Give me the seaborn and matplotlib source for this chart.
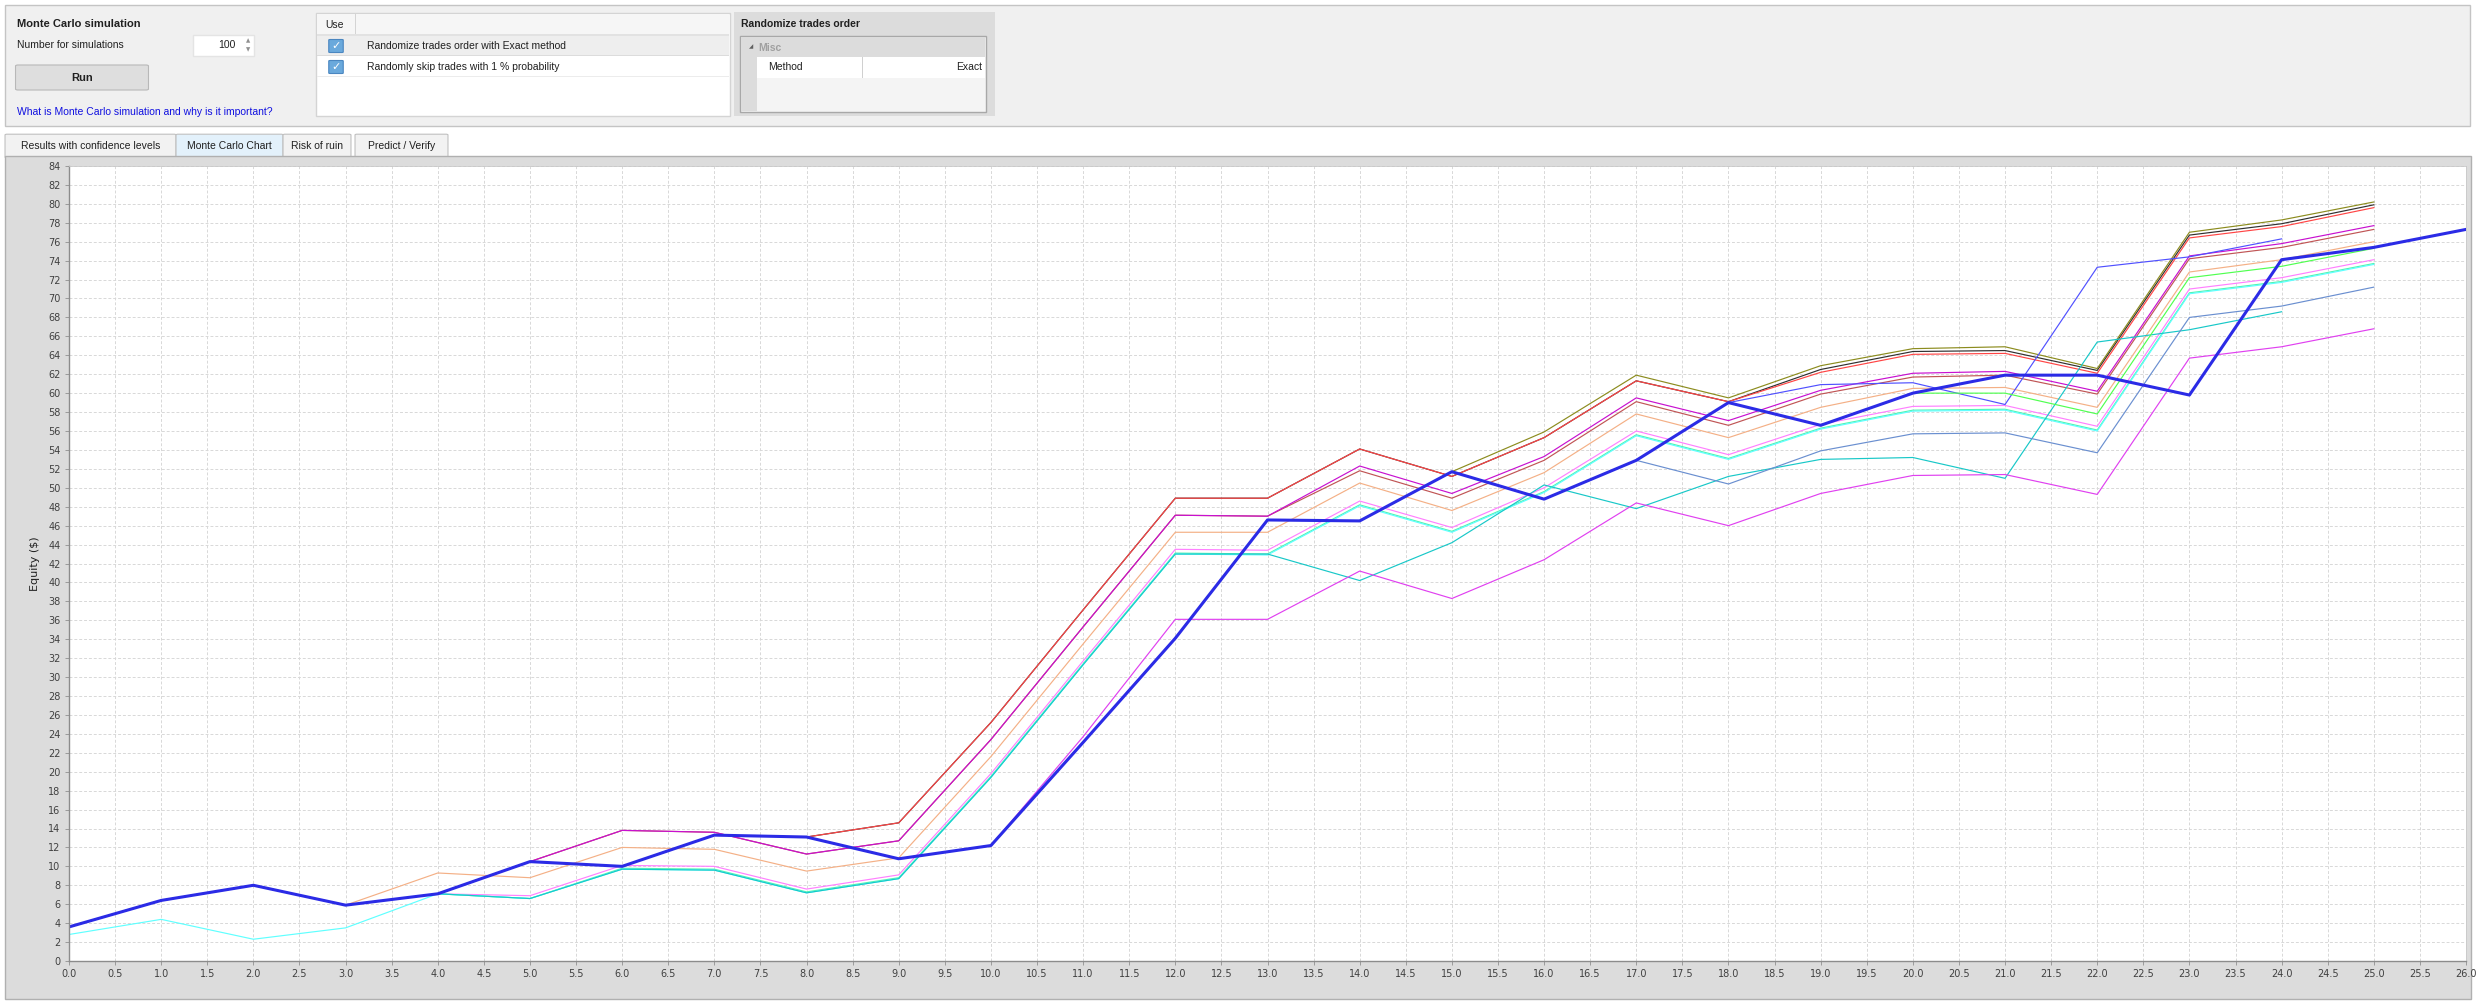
# -*- coding: utf-8 -*-
# Monte Carlo chart screen: UI panels drawn with matplotlib, equity curves with seaborn
import numpy as np
import pandas as pd
import matplotlib
matplotlib.use("Agg")
import matplotlib.pyplot as plt
from matplotlib.patches import Rectangle, FancyBboxPatch
import seaborn as sns

# ---- datos ----
pasos = list(range(26))          # 0 .. 25
pasos_base = list(range(27))     # 0 .. 26 (linea principal)
pasos_cortos = list(range(25))   # 0 .. 24

eq_base = [3.6, 6.4, 8.0, 5.9, 7.1, 10.5, 10.0, 13.3, 13.1, 10.8, 12.2, 23.1, 34.1, 46.6,
           46.5, 51.7, 48.8, 52.9, 59.0, 56.6, 60.0, 61.9, 61.9, 59.8, 74.1, 75.4, 77.3]
eq_olivo = [3.6, 6.4, 8.0, 5.9, 7.1, 10.5, 10.0, 13.3, 13.1, 10.8, 12.2, 23.1, 34.1, 46.6,
            46.5, 51.7, 55.9, 61.9, 59.5, 62.9, 64.7, 64.9, 62.6, 77.0, 78.3, 80.2]
eq_negro = [3.6, 6.4, 8.0, 5.9, 7.1, 10.5, 10.0, 13.3, 13.1, 14.6, 25.2, 37.1, 48.9, 48.9,
            54.1, 51.2, 55.3, 61.3, 59.1, 62.5, 64.4, 64.5, 62.4, 76.7, 77.9, 79.9]
eq_rojo = [3.6, 6.4, 8.0, 5.9, 7.1, 10.5, 10.0, 13.3, 13.1, 14.6, 25.2, 37.1, 48.9, 48.9,
           54.1, 51.2, 55.3, 61.3, 59.1, 62.2, 64.1, 64.2, 62.1, 76.4, 77.6, 79.6]
eq_morado = [3.6, 6.4, 8.0, 5.9, 7.1, 10.5, 13.8, 13.6, 11.3, 12.7, 23.4, 35.3, 47.1, 47.0,
             52.3, 49.4, 53.3, 59.5, 57.1, 60.3, 62.1, 62.3, 60.2, 74.5, 75.8, 77.7]
eq_cafe = [3.6, 6.4, 8.0, 5.9, 7.1, 10.5, 13.8, 13.6, 11.3, 12.7, 23.4, 35.3, 47.1, 47.0,
           51.8, 48.9, 52.9, 59.1, 56.6, 59.9, 61.7, 61.9, 59.9, 74.2, 75.4, 77.3]
eq_durazno = [3.6, 6.4, 8.0, 5.9, 9.3, 8.8, 12.0, 11.8, 9.5, 10.9, 21.6, 33.5, 45.3, 45.3,
              50.5, 47.6, 51.6, 57.8, 55.3, 58.5, 60.5, 60.6, 58.5, 72.8, 74.1, 76.0]
eq_rosa = [3.6, 6.4, 8.0, 5.9, 7.1, 6.9, 10.1, 10.0, 7.6, 9.1, 19.8, 31.7, 43.5, 43.4,
           48.6, 45.8, 50.0, 56.0, 53.5, 56.7, 58.6, 58.7, 56.5, 71.0, 72.2, 74.1]
eq_aguamarina = [3.6, 6.4, 8.0, 5.9, 7.1, 6.6, 9.8, 9.7, 7.3, 8.8, 19.5, 31.4, 43.1, 43.0,
                 48.2, 45.4, 49.6, 55.6, 53.1, 56.3, 58.2, 58.3, 56.1, 70.6, 71.8, 73.7]
eq_cian = [2.8, 4.4, 2.3, 3.5, 7.1, 6.6, 9.7, 9.6, 7.2, 8.7, 19.4, 31.3, 43.0, 42.9,
           48.1, 45.3, 49.5, 55.5, 53.0, 56.2, 58.1, 58.2, 56.0, 70.5, 71.7, 73.6]
eq_verde_azulado = [3.6, 6.4, 8.0, 5.9, 7.1, 6.6, 9.7, 9.6, 7.2, 8.7, 19.4, 31.3, 43.0, 43.0,
                    40.2, 44.2, 50.3, 47.8, 51.2, 53.0, 53.2, 51.0, 65.4, 66.7, 68.6]
eq_acero = [3.6, 6.4, 8.0, 5.9, 7.1, 10.5, 10.0, 13.3, 13.1, 10.8, 12.2, 23.1, 34.1, 46.6,
            46.5, 51.7, 48.8, 52.9, 50.4, 53.9, 55.7, 55.8, 53.7, 68.0, 69.2, 71.2]
eq_azul_fino = [3.6, 6.4, 8.0, 5.9, 7.1, 10.5, 10.0, 13.3, 13.1, 10.8, 12.2, 23.1, 34.1, 46.6,
                46.5, 51.7, 48.8, 52.9, 59.0, 60.9, 61.1, 58.8, 73.3, 74.4, 76.3]
eq_verde = [3.6, 6.4, 8.0, 5.9, 7.1, 10.5, 10.0, 13.3, 13.1, 10.8, 12.2, 23.1, 34.1, 46.6,
            46.5, 51.7, 48.8, 52.9, 59.0, 56.6, 60.0, 60.0, 57.8, 72.2, 73.4, 75.3]
eq_fucsia = [3.6, 6.4, 8.0, 5.9, 7.1, 10.5, 10.0, 13.3, 13.1, 10.8, 12.2, 23.7, 36.1, 36.1,
             41.2, 38.3, 42.4, 48.4, 46.0, 49.4, 51.3, 51.4, 49.3, 63.7, 64.9, 66.8]

# (pasos, valores, color) en orden de dibujo
simulaciones = [
    (pasos, eq_negro, '#303030'),
    (pasos, eq_olivo, '#8c8c1e'),
    (pasos, eq_rojo, '#ff4545'),
    (pasos, eq_cafe, '#c05555'),
    (pasos, eq_morado, '#c810d0'),
    (pasos, eq_durazno, '#f4b086'),
    (pasos, eq_rosa, '#ff80ff'),
    (pasos, eq_aguamarina, '#50f5b0'),
    (pasos, eq_cian, '#60ffff'),
    (pasos_cortos, eq_verde_azulado, '#18c8c8'),
    (pasos, eq_acero, '#6a8fd0'),
    (pasos_cortos, eq_azul_fino, '#5050ff'),
    (pasos, eq_verde, '#50ff50'),
    (pasos, eq_fucsia, '#e040f0'),
]

y_ticks = list(range(0, 85, 2))
x_ticks = [i / 2 for i in range(0, 53)]

# ---- figura ----
W, H = 2476, 1005
fig = plt.figure(figsize=(W / 100, H / 100), dpi=100)
fig.patch.set_facecolor('white')
ui_font = ['Liberation Sans', 'DejaVu Sans']


def rect(x0, y0, x1, y1, fc, ec='none', lw=1.0, z=0):
    fig.add_artist(Rectangle((x0 / W, 1 - y1 / H), (x1 - x0) / W, (y1 - y0) / H,
                             transform=fig.transFigure, facecolor=fc, edgecolor=ec,
                             linewidth=lw, zorder=z))


def texto(x, y, s, size=7.5, **kw):
    kw.setdefault('family', ui_font)
    kw.setdefault('va', 'center')
    fig.text(x / W, 1 - y / H, s, fontsize=size, **kw)


def casilla(x, y):
    fig.add_artist(FancyBboxPatch(((x - 6) / W, 1 - (y + 6) / H), 12 / W, 12 / H,
                                  boxstyle='round,pad=0.0005', transform=fig.transFigure,
                                  facecolor='#6aa9dc', edgecolor='#4a86c0', linewidth=0.8))
    texto(x, y, '\u2713', size=8, color='white', ha='center', family='DejaVu Sans',
          fontweight='bold')


# panel superior
rect(5, 5, 2470, 126, '#f0f0f0', '#c4c4c4')
texto(17, 24, 'Monte Carlo simulation', size=8, fontweight='bold', color='#202020')
texto(17, 45, 'Number for simulations', color='#202020')
rect(193, 35, 254, 56, 'white', '#e4e4e4')
texto(236, 45, '100', ha='right', color='#202020')
texto(248, 41, '\u25b2', size=4, ha='center', color='#909090', family='DejaVu Sans')
texto(248, 50, '\u25bc', size=4, ha='center', color='#909090', family='DejaVu Sans')
fig.add_artist(FancyBboxPatch((18 / W, 1 - 89 / H), 128 / W, 23 / H,
                              boxstyle='round,pad=0.001', transform=fig.transFigure,
                              facecolor='#dedede', edgecolor='#b8b8b8', linewidth=0.8))
texto(82, 78, 'Run', size=8, fontweight='bold', ha='center', color='#202020')
texto(17, 112, 'What is Monte Carlo simulation and why is it important?', color='#1010e0')

# tabla de opciones
rect(316, 13, 730, 116, 'white', '#d4d4d4')
rect(317, 14, 729, 34, '#f6f6f6')
rect(317, 34, 729, 36, '#e2e2e2')
rect(355, 14, 356, 34, '#d4d4d4')
texto(325, 25, 'Use', color='#202020')
rect(317, 36, 729, 55, '#eeeeee')
rect(317, 55, 729, 56, '#dcdcdc')
rect(317, 76, 729, 77, '#ececec')
casilla(336, 46)
casilla(336, 67)
texto(367, 46, 'Randomize trades order with Exact method', color='#202020')
texto(367, 67, 'Randomly skip trades with 1 % probability', color='#202020')

# panel de propiedades
rect(734, 12, 995, 116, '#dcdcdc')
texto(741, 24, 'Randomize trades order', size=7.5, fontweight='bold', color='#202020')
rect(740, 36, 986, 112, '#f4f4f4', '#a8a8a8')
rect(741, 37, 985, 57, '#dcdcdc')
rect(741, 57, 757, 111, '#dcdcdc')
rect(757, 57, 985, 78, 'white')
rect(862, 57, 863, 78, '#d0d0d0')
texto(749, 47, '\u25e2', size=4, color='#606060', family='DejaVu Sans')
texto(758, 48, 'Misc', fontweight='bold', color='#a0a0a0')
texto(768, 67, 'Method', color='#202020')
texto(982, 67, 'Exact', ha='right', color='#202020')

# pestanas
tabs = [(7, 174, 'Results with confidence levels', '#f2f2f2'),
        (178, 281, 'Monte Carlo Chart', '#e3f1fb'),
        (285, 349, 'Risk of ruin', '#f2f2f2'),
        (357, 446, 'Predict / Verify', '#f2f2f2')]
for x0, x1, nombre, color in tabs:
    fig.add_artist(FancyBboxPatch((x0 / W, 1 - 157 / H), (x1 - x0) / W, 22 / H,
                                  boxstyle='round,pad=0.0008', transform=fig.transFigure,
                                  facecolor=color, edgecolor='#c0c0c0', linewidth=0.8))
    texto((x0 + x1) / 2, 146, nombre, ha='center', color='#202020')

# panel del grafico
rect(5, 156, 2471, 999, '#dcdcdc', '#b0b0b0', z=1)

ax = fig.add_axes([69 / W, 1 - 961 / H, (2466 - 69) / W, (961 - 166) / H], zorder=2)
ax.set_facecolor('white')

for xs, ys, color in simulaciones:
    sns.lineplot(x=xs, y=ys, color=color, linewidth=0.85, ax=ax, sort=False,
                 estimator=None, legend=False)
sns.lineplot(x=pasos_base, y=eq_base, color='#2b2be6', linewidth=2.2, ax=ax,
             sort=False, estimator=None, legend=False)

ax.set_xlim(0, 26)
ax.set_ylim(0, 84)
ax.set_xticks(x_ticks)
ax.set_xticklabels([f'{v:.1f}' for v in x_ticks])
ax.set_yticks(y_ticks)
ax.set_yticklabels([str(v) for v in y_ticks])
ax.grid(True, color='#d8d8d8', linestyle=(0, (3, 2)), linewidth=0.7)
ax.set_axisbelow(True)
ax.tick_params(axis='both', labelsize=7, colors='#404040', length=3, width=0.6,
               pad=3)
ax.tick_params(axis='both', color='#909090')
for lado in ['top', 'right']:
    ax.spines[lado].set_color('#c8c8c8')
    ax.spines[lado].set_linewidth(0.6)
for lado in ['left', 'bottom']:
    ax.spines[lado].set_color('#8c8c8c')
    ax.spines[lado].set_linewidth(1.0)
ax.set_xlabel('')
ax.set_ylabel('Equity ($)', fontsize=8, color='#202020', labelpad=6)
for lbl in ax.get_xticklabels():
    lbl.set_clip_on(False)

fig.savefig('out.png', dpi=100)
